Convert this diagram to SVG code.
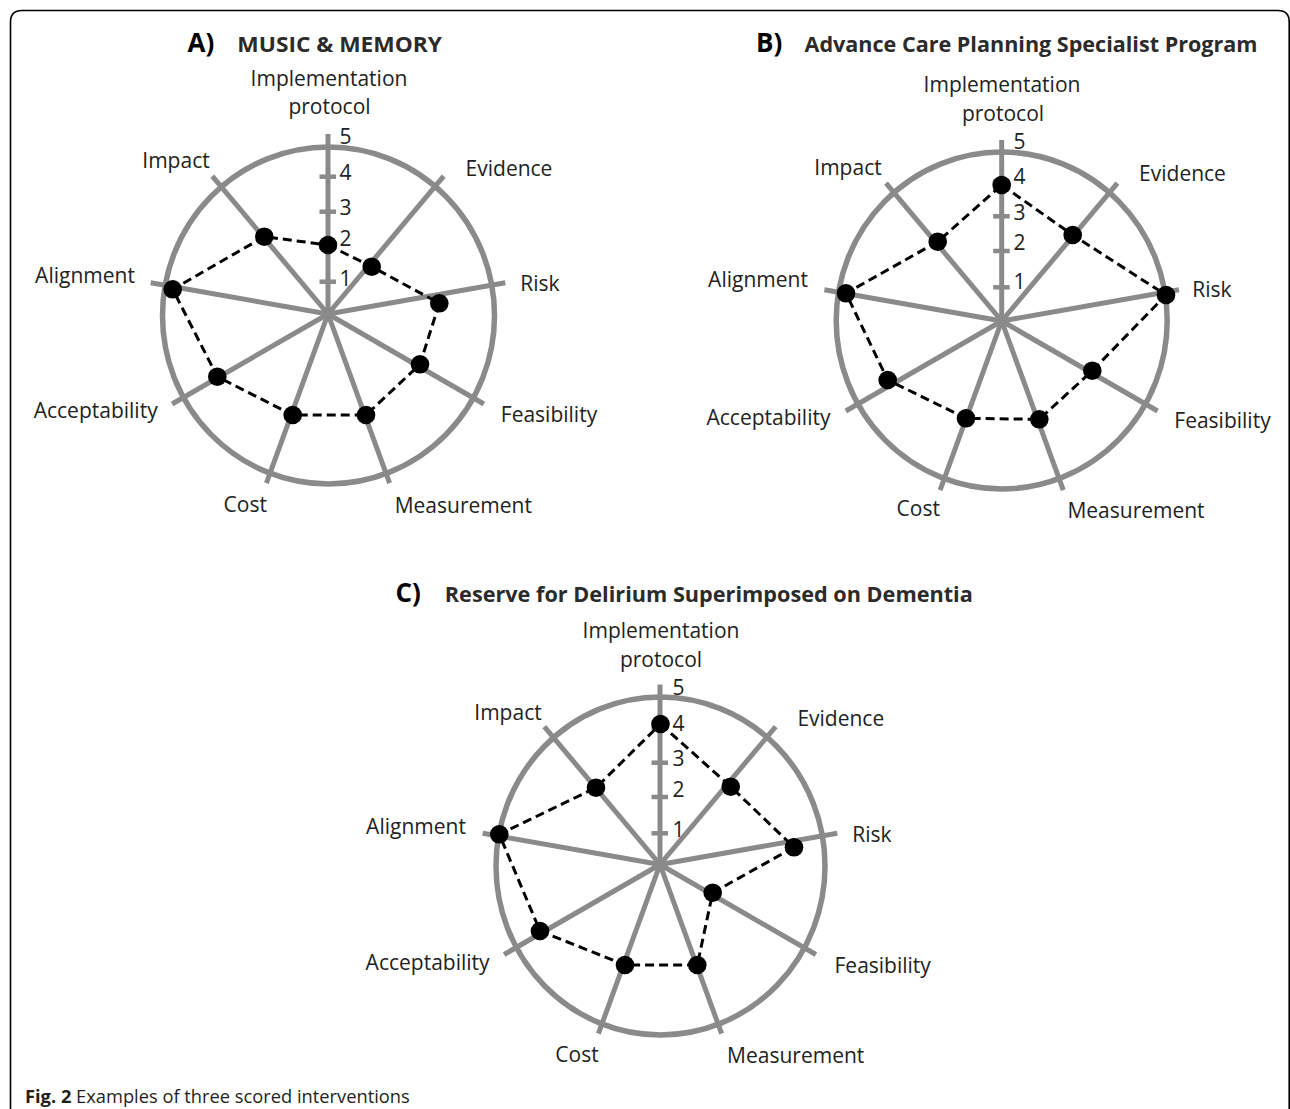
<svg xmlns="http://www.w3.org/2000/svg" width="1290" height="1109" viewBox="0 0 1290 1109">
<style>
.lbl{font-family:"Open Sans","Liberation Sans",sans-serif;font-size:21px;fill:#222;text-anchor:middle}
.num{font-family:"Open Sans","Liberation Sans",sans-serif;font-size:21px;fill:#222}
.tl{font-family:"Open Sans","Liberation Sans",sans-serif;font-weight:bold;font-size:26px;fill:#000}
.tt{font-family:"Open Sans","Liberation Sans",sans-serif;font-weight:bold;font-size:22px;fill:#2b2b2b}
.spk{stroke:#8a8a8a;stroke-width:5;fill:none}
.ring{stroke:#8a8a8a;stroke-width:5.5;fill:none}
.tick{stroke:#8a8a8a;stroke-width:4.5}
.poly{stroke:#000;stroke-width:3;stroke-dasharray:9 5;fill:none}
.dot{fill:#000}
.cap{font-family:"Open Sans","Liberation Sans",sans-serif;font-size:18.3px;fill:#231f20}
</style>
<rect width="1290" height="1109" fill="#fff"/>
<path d="M10.5,1109 V22 Q10.5,10.5 22,10.5 H1278 Q1289.2,10.5 1289.2,22 V1109" fill="none" stroke="#000" stroke-width="1.6"/>

<g id="chartA">
<text class="tl" x="187.5" y="51.7">A)</text>
<text class="tt" x="237.3" y="51.7" textLength="204.7" lengthAdjust="spacingAndGlyphs">MUSIC &amp; MEMORY</text>
<ellipse class="ring" cx="328.5" cy="315.5" rx="166" ry="168.5"/>
<g class="spk">
<line x1="328" y1="314" x2="328" y2="134"/>
<line x1="328" y1="314" x2="443.7" y2="176.1"/>
<line x1="328" y1="314" x2="505.3" y2="282.7"/>
<line x1="328" y1="314" x2="483.9" y2="404"/>
<line x1="328" y1="314" x2="389.6" y2="483.1"/>
<line x1="328" y1="314" x2="266.4" y2="483.1"/>
<line x1="328" y1="314" x2="172.1" y2="404"/>
<line x1="328" y1="314" x2="150.7" y2="282.7"/>
<line x1="328" y1="314" x2="212.3" y2="176.1"/>
</g>
<g class="tick">
<line x1="319.5" y1="281.7" x2="336" y2="281.7"/>
<line x1="319.5" y1="246.8" x2="336" y2="246.8"/>
<line x1="319.5" y1="211.7" x2="336" y2="211.7"/>
<line x1="319.5" y1="176.7" x2="336" y2="176.7"/>
</g>
<text class="num" x="339.5" y="144">5</text>
<text class="num" x="339.5" y="180">4</text>
<text class="num" x="339.5" y="214.5">3</text>
<text class="num" x="339.5" y="245.5">2</text>
<text class="num" x="339.5" y="285.5">1</text>
<polygon class="poly" points="328,245 371.7,266.7 439.3,303.3 420,364.3 366,415 292.7,415 217.3,376.7 172.7,289.3 264.3,236.7"/>
<g class="dot">
<circle cx="328" cy="245" r="9.3"/>
<circle cx="371.7" cy="266.7" r="9.3"/>
<circle cx="439.3" cy="303.3" r="9.3"/>
<circle cx="420" cy="364.3" r="9.3"/>
<circle cx="366" cy="415" r="9.3"/>
<circle cx="292.7" cy="415" r="9.3"/>
<circle cx="217.3" cy="376.7" r="9.3"/>
<circle cx="172.7" cy="289.3" r="9.3"/>
<circle cx="264.3" cy="236.7" r="9.3"/>
</g>
<text class="lbl" x="329" y="85.7">Implementation</text>
<text class="lbl" x="329.5" y="114">protocol</text>
<text class="lbl" x="176" y="168">Impact</text>
<text class="lbl" x="509" y="176">Evidence</text>
<text class="lbl" x="85" y="283">Alignment</text>
<text class="lbl" x="540" y="291">Risk</text>
<text class="lbl" x="95.7" y="418.3">Acceptability</text>
<text class="lbl" x="549" y="421.7">Feasibility</text>
<text class="lbl" x="245.3" y="511.7">Cost</text>
<text class="lbl" x="463.3" y="513.3">Measurement</text>
</g>

<g id="chartB">
<text class="tl" x="756" y="51.7">B)</text>
<text class="tt" x="804.5" y="51.5" font-size="21" textLength="453" lengthAdjust="spacingAndGlyphs">Advance Care Planning Specialist Program</text>
<ellipse class="ring" cx="1001.7" cy="320.5" rx="165.5" ry="168.5"/>
<g class="spk">
<line x1="1001.7" y1="321" x2="1001.7" y2="140"/>
<line x1="1001.7" y1="321" x2="1117.4" y2="183.1"/>
<line x1="1001.7" y1="321" x2="1179" y2="289.7"/>
<line x1="1001.7" y1="321" x2="1157.6" y2="411"/>
<line x1="1001.7" y1="321" x2="1063.3" y2="490.1"/>
<line x1="1001.7" y1="321" x2="940.1" y2="490.1"/>
<line x1="1001.7" y1="321" x2="845.8" y2="411"/>
<line x1="1001.7" y1="321" x2="824.4" y2="289.7"/>
<line x1="1001.7" y1="321" x2="886" y2="183.1"/>
</g>
<g class="tick">
<line x1="993.2" y1="287.3" x2="1009.7" y2="287.3"/>
<line x1="993.2" y1="251" x2="1009.7" y2="251"/>
<line x1="993.2" y1="216.3" x2="1009.7" y2="216.3"/>
<line x1="993.2" y1="181.5" x2="1009.7" y2="181.5"/>
</g>
<text class="num" x="1013.5" y="149">5</text>
<text class="num" x="1013.5" y="184">4</text>
<text class="num" x="1013.5" y="220">3</text>
<text class="num" x="1013.5" y="250">2</text>
<text class="num" x="1013.5" y="289">1</text>
<polygon class="poly" points="1001.7,185 1072.7,235 1166,295 1092.3,370.7 1039.3,419.3 966,418.3 887.7,380 846,293.3 937.7,241.7"/>
<g class="dot">
<circle cx="1001.7" cy="185" r="9.3"/>
<circle cx="1072.7" cy="235" r="9.3"/>
<circle cx="1166" cy="295" r="9.3"/>
<circle cx="1092.3" cy="370.7" r="9.3"/>
<circle cx="1039.3" cy="419.3" r="9.3"/>
<circle cx="966" cy="418.3" r="9.3"/>
<circle cx="887.7" cy="380" r="9.3"/>
<circle cx="846" cy="293.3" r="9.3"/>
<circle cx="937.7" cy="241.7" r="9.3"/>
</g>
<text class="lbl" x="1002" y="91.7">Implementation</text>
<text class="lbl" x="1003" y="120.7">protocol</text>
<text class="lbl" x="848" y="175">Impact</text>
<text class="lbl" x="1182.5" y="181">Evidence</text>
<text class="lbl" x="758" y="287.3">Alignment</text>
<text class="lbl" x="1212" y="296.5">Risk</text>
<text class="lbl" x="768.5" y="425">Acceptability</text>
<text class="lbl" x="1222.5" y="428.3">Feasibility</text>
<text class="lbl" x="918.3" y="516">Cost</text>
<text class="lbl" x="1136" y="518.3">Measurement</text>
</g>

<g id="chartC">
<text class="tl" x="395.4" y="601.5">C)</text>
<text class="tt" x="444.8" y="601.5" font-size="21" textLength="528" lengthAdjust="spacingAndGlyphs">Reserve for Delirium Superimposed on Dementia</text>
<ellipse class="ring" cx="660.5" cy="866" rx="164.5" ry="169"/>
<g class="spk">
<line x1="660" y1="864.5" x2="660" y2="684.5"/>
<line x1="660" y1="864.5" x2="775.7" y2="726.6"/>
<line x1="660" y1="864.5" x2="837.3" y2="833.2"/>
<line x1="660" y1="864.5" x2="815.9" y2="954.5"/>
<line x1="660" y1="864.5" x2="721.6" y2="1033.6"/>
<line x1="660" y1="864.5" x2="598.4" y2="1033.6"/>
<line x1="660" y1="864.5" x2="504.1" y2="954.5"/>
<line x1="660" y1="864.5" x2="482.7" y2="833.2"/>
<line x1="660" y1="864.5" x2="544.3" y2="726.6"/>
</g>
<g class="tick">
<line x1="651.5" y1="833.3" x2="668" y2="833.3"/>
<line x1="651.5" y1="797" x2="668" y2="797"/>
<line x1="651.5" y1="762.7" x2="668" y2="762.7"/>
<line x1="651.5" y1="728" x2="668" y2="728"/>
</g>
<text class="num" x="672.5" y="694.5">5</text>
<text class="num" x="672.5" y="730.5">4</text>
<text class="num" x="672.5" y="765.5">3</text>
<text class="num" x="672.5" y="796.5">2</text>
<text class="num" x="672.5" y="836.5">1</text>
<polygon class="poly" points="660.5,724 730.7,786.7 794,847.3 712.7,892.7 697.3,965 625,965 540,931 499.3,834.3 596,787.7"/>
<g class="dot">
<circle cx="660.5" cy="724" r="9.3"/>
<circle cx="730.7" cy="786.7" r="9.3"/>
<circle cx="794" cy="847.3" r="9.3"/>
<circle cx="712.7" cy="892.7" r="9.3"/>
<circle cx="697.3" cy="965" r="9.3"/>
<circle cx="625" cy="965" r="9.3"/>
<circle cx="540" cy="931" r="9.3"/>
<circle cx="499.3" cy="834.3" r="9.3"/>
<circle cx="596" cy="787.7" r="9.3"/>
</g>
<text class="lbl" x="661" y="638.3">Implementation</text>
<text class="lbl" x="661" y="666.7">protocol</text>
<text class="lbl" x="508" y="720">Impact</text>
<text class="lbl" x="840.8" y="726">Evidence</text>
<text class="lbl" x="416" y="834.3">Alignment</text>
<text class="lbl" x="872" y="841.7">Risk</text>
<text class="lbl" x="427.6" y="970">Acceptability</text>
<text class="lbl" x="882.7" y="972.7">Feasibility</text>
<text class="lbl" x="577" y="1061.7">Cost</text>
<text class="lbl" x="795.7" y="1062.7">Measurement</text>
</g>

<g id="caption">
<text class="cap" x="25" y="1103"><tspan font-weight="bold">Fig. 2</tspan> Examples of three scored interventions</text>
</g>
</svg>
